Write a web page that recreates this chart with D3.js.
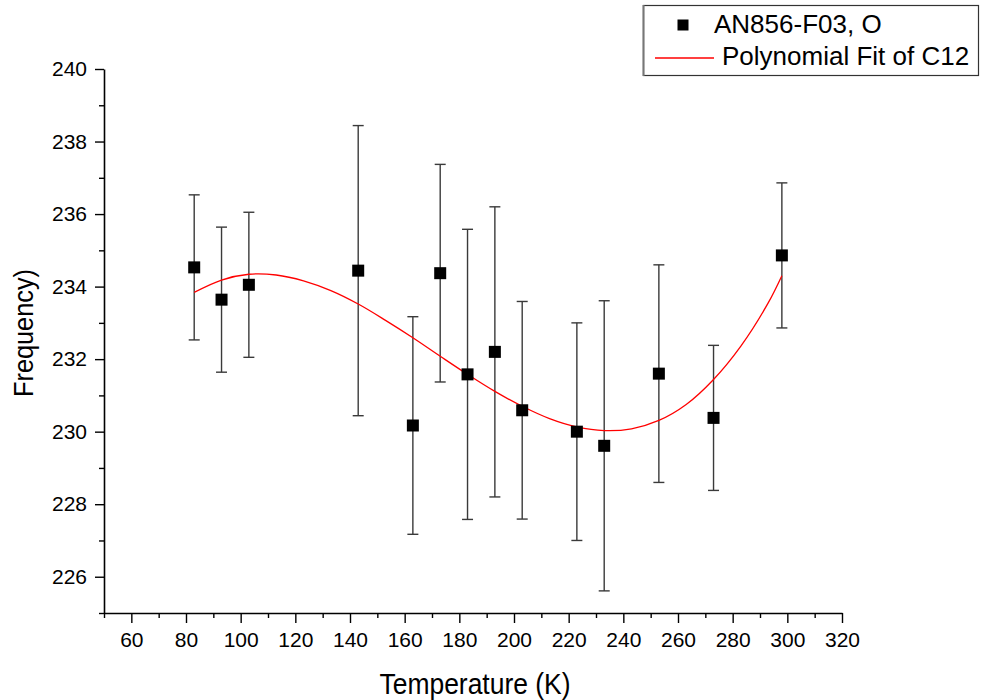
<!DOCTYPE html>
<html>
<head>
<meta charset="utf-8">
<script src="https://cdn.jsdelivr.net/npm/d3@7/dist/d3.min.js"></script>
<style>
  html, body { margin: 0; padding: 0; background: #fff; }
  svg { display: block; font-family: "Liberation Sans", Arial, sans-serif; }
</style>
</head>
<body>
<svg id="chart" width="981" height="700"></svg>
<script>
// Measured frequency versus temperature, with error bars
const temperatures = [83, 93, 103, 143, 163, 173, 183, 193, 203, 223, 233, 253, 273, 298];
const frequencies  = [234.53, 233.64, 234.05, 234.44, 230.17, 234.37, 231.58, 232.20, 230.59, 230.00, 229.61, 231.60, 230.38, 234.86];
const errors       = [2, 2, 2, 4, 3, 3, 4, 4, 3, 3, 4, 3, 2, 2];

// Polynomial fit curve, sampled along the temperature range
const fitTemperatures = [83, 93, 103, 113, 123, 133, 143, 153, 163, 173, 183, 193, 203, 213, 223, 233, 243, 253, 263, 273, 283, 293, 298];
const fitFrequencies  = [233.84, 234.18, 234.34, 234.32, 234.16, 233.89, 233.52, 233.07, 232.59, 232.08, 231.58, 231.11, 230.70, 230.36, 230.13, 230.03, 230.08, 230.31, 230.75, 231.44, 232.36, 233.55, 234.30];

// Axis ticks
const xMajorTicks = d3.range(60, 321, 20);
const xMinorTicks = d3.range(50, 320, 20);
const yMajorTicks = d3.range(226, 241, 2);
const yMinorTicks = d3.range(225, 240, 2);

const seriesName = "AN856-F03, O";
const fitName = "Polynomial Fit of C12";

const svg = d3.select("#chart");

const x = d3.scaleLinear().domain([50, 320]).range([104, 842]);
const y = d3.scaleLinear().domain([225, 240]).range([613, 69]);

const axisColor = "#000";

// X axis
const gx = svg.append("g").attr("transform", `translate(0,${y(225)})`);
gx.call(d3.axisBottom(x).tickValues(xMajorTicks).tickSize(10).tickSizeOuter(0).tickPadding(9).tickFormat(d3.format("d")));
gx.append("g").call(d3.axisBottom(x).tickValues(xMinorTicks).tickSize(5).tickSizeOuter(0).tickFormat(""))
  .select(".domain").remove();
gx.selectAll(".domain").attr("stroke", axisColor).attr("stroke-width", 1.6);
gx.selectAll(".tick line").attr("stroke", axisColor).attr("stroke-width", 1.4);
gx.selectAll(".tick text").attr("font-size", 21).attr("fill", "#000")
  .attr("font-family", "'Liberation Sans', Arial, sans-serif");

// Y axis
const gy = svg.append("g").attr("transform", `translate(${x(50)},0)`);
gy.call(d3.axisLeft(y).tickValues(yMajorTicks).tickSize(9).tickSizeOuter(0).tickPadding(8).tickFormat(d3.format("d")));
gy.append("g").call(d3.axisLeft(y).tickValues(yMinorTicks).tickSize(5).tickSizeOuter(0).tickFormat(""))
  .select(".domain").remove();
gy.selectAll(".domain").attr("stroke", axisColor).attr("stroke-width", 1.6);
gy.selectAll(".tick line").attr("stroke", axisColor).attr("stroke-width", 1.4);
gy.selectAll(".tick text").attr("font-size", 21).attr("fill", "#000")
  .attr("font-family", "'Liberation Sans', Arial, sans-serif");

// Axis titles
svg.append("text")
  .attr("x", 475).attr("y", 694)
  .attr("text-anchor", "middle")
  .attr("font-size", 29)
  .attr("textLength", 191).attr("lengthAdjust", "spacingAndGlyphs")
  .text("Temperature (K)");

svg.append("text")
  .attr("transform", `translate(33,333) rotate(-90)`)
  .attr("text-anchor", "middle")
  .attr("font-size", 27)
  .attr("textLength", 128).attr("lengthAdjust", "spacingAndGlyphs")
  .text("Frequency)");

const points = temperatures.map((t, i) => ({ t, f: frequencies[i], e: errors[i] }));

// Error bars
const bars = svg.append("g").attr("stroke", "#3a3a3a").attr("stroke-width", 1.4);
bars.selectAll("line.stem").data(points).join("line")
  .attr("class", "stem")
  .attr("x1", d => x(d.t)).attr("x2", d => x(d.t))
  .attr("y1", d => y(d.f + d.e)).attr("y2", d => y(d.f - d.e));
bars.selectAll("line.capTop").data(points).join("line")
  .attr("class", "capTop")
  .attr("x1", d => x(d.t) - 5.5).attr("x2", d => x(d.t) + 5.5)
  .attr("y1", d => y(d.f + d.e)).attr("y2", d => y(d.f + d.e));
bars.selectAll("line.capBottom").data(points).join("line")
  .attr("class", "capBottom")
  .attr("x1", d => x(d.t) - 5.5).attr("x2", d => x(d.t) + 5.5)
  .attr("y1", d => y(d.f - d.e)).attr("y2", d => y(d.f - d.e));

// Fit curve
const fitLine = d3.line()
  .x((d, i) => x(fitTemperatures[i]))
  .y(d => y(d))
  .curve(d3.curveCatmullRom.alpha(0.5));
svg.append("path")
  .attr("d", fitLine(fitFrequencies))
  .attr("fill", "none")
  .attr("stroke", "#ff0000")
  .attr("stroke-width", 1.3);

// Data markers
const markerSize = 12;
svg.append("g").selectAll("rect").data(points).join("rect")
  .attr("x", d => x(d.t) - markerSize / 2)
  .attr("y", d => y(d.f) - markerSize / 2)
  .attr("width", markerSize).attr("height", markerSize)
  .attr("fill", "#000");

// Legend
const legend = svg.append("g");
legend.append("rect")
  .attr("x", 643.5).attr("y", 5.5).attr("width", 335).attr("height", 70)
  .attr("fill", "#fff").attr("stroke", "#333").attr("stroke-width", 1.2);
legend.append("line")
  .attr("x1", 643.5).attr("x2", 643.5).attr("y1", 5).attr("y2", 76)
  .attr("stroke", "#777").attr("stroke-width", 2);
legend.append("rect")
  .attr("x", 683 - 5.5).attr("y", 25 - 5.5).attr("width", 11).attr("height", 11)
  .attr("fill", "#000");
legend.append("text")
  .attr("x", 714).attr("y", 33)
  .attr("font-size", 26)
  .text(seriesName);
legend.append("line")
  .attr("x1", 655).attr("x2", 714).attr("y1", 58).attr("y2", 58)
  .attr("stroke", "#ff0000").attr("stroke-width", 1.3);
legend.append("text")
  .attr("x", 722).attr("y", 65)
  .attr("font-size", 26)
  .text(fitName);
</script>
</body>
</html>
